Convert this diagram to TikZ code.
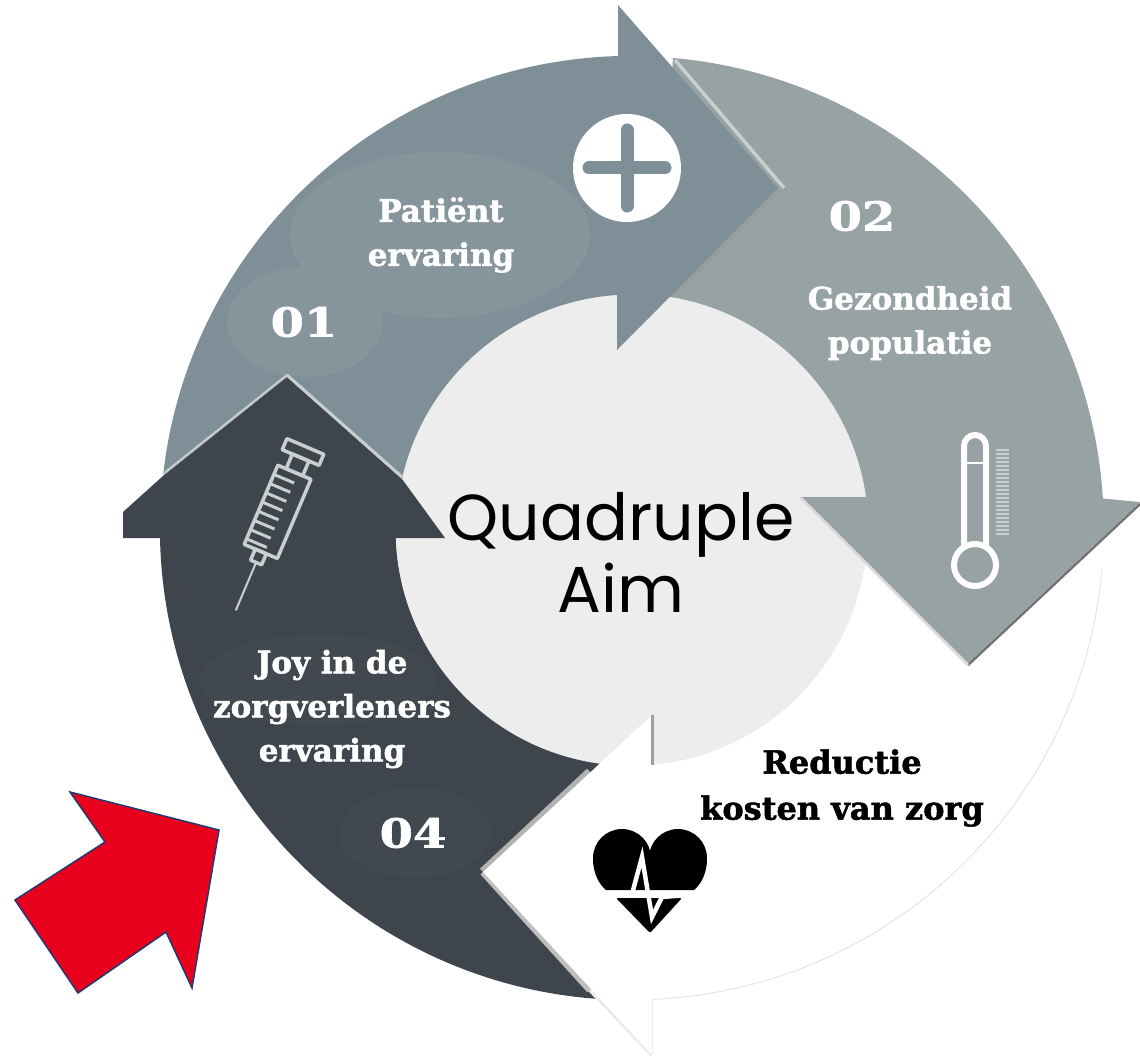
\documentclass[tikz,border=0pt]{standalone}
\usepackage{fontspec}
\setmainfont[BoldFeatures={FakeBold=1.6}]{DejaVu Serif}
\newfontfamily\aimfont{Poppins}
\definecolor{patientgrey}{HTML}{7F8F98}
\definecolor{patientlight}{HTML}{86949C}
\definecolor{populationgrey}{HTML}{96A2A3}
\definecolor{joydark}{HTML}{3F454C}
\definecolor{joylight}{HTML}{42484F}
\definecolor{discgrey}{HTML}{EDEDED}
\definecolor{edgelight}{HTML}{C8CFCF}
\definecolor{aimred}{HTML}{E8001C}
\definecolor{aimnavy}{HTML}{1F3B6F}
\tikzset{
    whitelabel/.style={font=\bfseries\fontsize{31}{44}\selectfont, text=white, align=center, inner sep=0pt}, % labels on the dark arrows
    blacklabel/.style={font=\bfseries\fontsize{32}{46}\selectfont, text=black, align=center, inner sep=0pt},
    numberlabel/.style={font=\bfseries\fontsize{40}{44}\selectfont\addfontfeatures{FakeStretch=1.2}, text=white, inner sep=0pt},
    iconline/.style={draw=white, line width=6pt, line cap=round, line join=round} % thermometer and syringe strokes
}
\begin{document}
\begin{tikzpicture}[x=1pt, y=-1pt]
    \useasboundingbox (0,0) rectangle (1140,1059);
    \def\Rout{472} \def\Rin{236}

    % centre disc
    \fill[discgrey] (632,530) circle[radius=\Rin];

    % 04: dark arrow pointing up
    \fill[joydark] (160,538) arc[start angle=178.8, end angle=90, radius=\Rout] -- (611,765)
        arc[start angle=95, end angle=178, radius=\Rin] -- (445,538) -- (402,479) -- (287,377) -- (163,476) -- (123,512) -- (123,538) -- cycle;
    \fill[joylight] (318,680) ellipse[x radius=118, y radius=46];
    \fill[joylight] (415,833) ellipse[x radius=76, y radius=45];

    % 03: white arrow pointing left, with a soft band under its head
    \draw[gray!60, line width=9pt] (483,872) -- (590,772);
    \draw[gray!50, line width=7pt] (483,872) -- (590,990);
    \draw[gray!15, line width=4pt] (590,990) -- (652,1055);
    \fill[white] (1102,569) arc[start angle=5, end angle=87.6, radius=\Rout] -- (652,1055) -- (483,872)
        -- (652,715) -- (652,765) arc[start angle=85, end angle=10, radius=\Rin] -- cycle;
    \draw[gray!20, line width=1pt] (1102,569) arc[start angle=5, end angle=87.6, radius=\Rout];
    \draw[gray!15, line width=1pt] (652,1000) -- (652,1055);
    \draw[gray!75, line width=3pt] (652,715) -- (652,765);

    % 02: grey arrow pointing down
    \fill[populationgrey] (673,58) arc[start angle=275, end angle=356.4, radius=\Rout] -- (1140,502) -- (968,663)
        -- (800,497) -- (866,497) arc[start angle=352, end angle=276, radius=\Rin] -- cycle;
    \draw[gray!90!black, line width=2.5pt] (1140,504) -- (968,665);
    \draw[gray!30, line width=2.5pt] (800,497) -- (968,665);

    % 01: blue grey arrow pointing right, its tail cut along the head of 04
    \fill[patientgrey] (163,476) arc[start angle=186.3, end angle=268.3, radius=\Rout] -- (618,5) -- (778,188)
        -- (617,350) -- (617,295) arc[start angle=266.3, end angle=193, radius=\Rin] -- (402,479) -- (287,377) -- cycle;
    \fill[patientlight] (440,235) ellipse[x radius=150, y radius=83];
    \fill[patientlight] (305,322) ellipse[x radius=78, y radius=55];
    \draw[edgelight, line width=3.5pt] (675,60) -- (784,188);
    \draw[gray!80, line width=2pt] (780,190) -- (672,297);
    \draw[edgelight, line width=3pt] (287,375) -- (402,477);
    \draw[edgelight, line width=2pt] (287,375) -- (163,474);

    % plus icon
    \fill[white] (627,168) circle[radius=54];
    \draw[patientgrey, line width=13pt, line cap=round] (589,168) -- (665,168);
    \draw[patientgrey, line width=13pt, line cap=round] (627,130) -- (627,206);

    % thermometer icon
    \draw[iconline] (964,546) -- (964,446) arc[start angle=180, end angle=360, radius=11] -- (986,546);
    \draw[iconline] (975,565) circle[radius=21];
    \draw[white, line width=2pt] (966,463) -- (984,463);
    \foreach \y in {450,454,...,534} {\draw[edgelight, line width=1.6pt] (996,\y) -- (1009,\y);}

    % heart icon
    \fill[black] (622,858) circle[radius=29];
    \fill[black] (678,858) circle[radius=29];
    \fill[black] (593,858) .. controls (593,875) and (600,885) .. (606,890) -- (694,890)
        .. controls (700,885) and (707,875) .. (707,858) -- cycle;
    \fill[black, rounded corners=2pt] (616,898) -- (682,898) -- (650,933) -- cycle;
    \draw[white, line width=4.5pt, line join=miter] (595,894) -- (632,894) -- (642,857) -- (652,917) -- (662,897) -- (700,894);

    % syringe icon
    \begin{scope}[shift={(303,452)}, rotate=-23]
        \draw[iconline, line width=3.5pt, draw=edgelight] (-20,-6) rectangle (20,6);
        \draw[iconline, line width=3.5pt, draw=edgelight] (-9,6) rectangle (9,22);
        \draw[iconline, line width=3.5pt, draw=edgelight] (-18,22) rectangle (18,108);
        \foreach \y in {32,42,...,102} {\draw[edgelight, line width=3pt] (-18,\y) -- (4,\y);}
        \draw[iconline, line width=3.5pt, draw=edgelight] (-6,108) rectangle (6,120);
        \draw[edgelight, line width=2pt] (0,120) -- (0,172);
    \end{scope}

    % labels
    \node[whitelabel] (patient) at (441,235) {Patiënt\\ervaring};
    \node[numberlabel] (one) at (304,322) {01};
    \node[numberlabel] (two) at (862,216) {02};
    \node[whitelabel] (population) at (910,323) {Gezondheid\\populatie};
    \node[whitelabel] (joy) at (332,709) {Joy in de\\zorgverleners\\ervaring};
    \node[numberlabel] (four) at (413,833) {04};
    \node[blacklabel] (costs) at (842,788) {Reductie\\kosten van zorg};
    \node[font=\aimfont\fontsize{65}{72}\selectfont, align=center, inner sep=0pt] (aim) at (621,552) {Quadruple\\Aim};

    % red arrow
    \draw[fill=aimred, draw=aimnavy, line width=1.5pt, line join=miter] (219,830) -- (70,792) -- (105,842) -- (15,900)
        -- (78,993) -- (166,932) -- (192,988) -- cycle;
\end{tikzpicture}
\end{document}
